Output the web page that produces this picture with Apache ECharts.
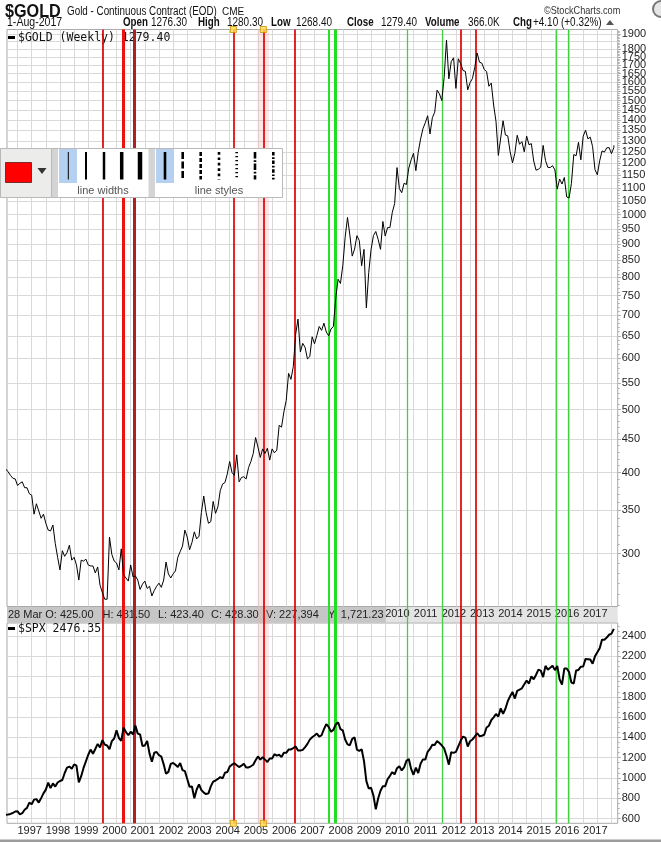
<!DOCTYPE html>
<html><head><meta charset="utf-8">
<script src="https://cdn.jsdelivr.net/npm/echarts@6/dist/echarts.min.js"></script>
<style>html,body{margin:0;padding:0;background:#fff}#c{width:661px;height:842px}</style>
</head><body><div id="c"></div>
<script>
// ---- Gold month-end values (Jan..Dec) ----
const g1996 = [405, 401, 396, 392, 391, 382, 385, 387, 379, 379, 371, 369];
const g1997 = [345, 358, 349, 340, 345, 334, 326, 325, 332, 311, 296, 283];
const g1998 = [303, 297, 301, 309, 293, 296, 288, 273, 293, 292, 294, 288];
const g1999 = [287, 287, 280, 286, 268, 261, 255, 255, 318, 299, 292, 290];
const g2000 = [283, 305, 278, 275, 272, 288, 276, 277, 273, 264, 269, 272];
const g2001 = [265, 267, 258, 263, 267, 270, 266, 273, 291, 279, 275, 279];
const g2002 = [282, 296, 302, 308, 326, 318, 304, 312, 324, 316, 319, 347];
const g2003 = [368, 347, 334, 336, 361, 346, 354, 375, 384, 386, 398, 416];
const g2004 = [400, 396, 426, 387, 393, 394, 391, 407, 416, 428, 453, 438];
const g2005 = [422, 435, 428, 436, 418, 435, 429, 433, 473, 470, 496, 517];
const g2006 = [569, 557, 583, 654, 690, 614, 633, 624, 599, 604, 648, 632];
const g2007 = [651, 672, 663, 680, 659, 650, 666, 672, 743, 795, 783, 834];
const g2008 = [923, 990, 930, 863, 885, 928, 912, 834, 884, 718, 814, 884];
const g2009 = [928, 942, 916, 884, 976, 927, 955, 955, 1008, 1040, 1182, 1097];
const g2010 = [1081, 1118, 1113, 1180, 1215, 1244, 1169, 1248, 1308, 1357, 1386, 1421];
const g2011 = [1332, 1411, 1439, 1556, 1536, 1500, 1628, 1860, 1620, 1722, 1746, 1566];
const g2012 = [1740, 1711, 1669, 1664, 1558, 1598, 1622, 1687, 1776, 1719, 1713, 1675];
const g2013 = [1663, 1578, 1596, 1476, 1393, 1234, 1313, 1396, 1327, 1323, 1250, 1202];
const g2014 = [1244, 1326, 1284, 1296, 1250, 1322, 1282, 1287, 1210, 1171, 1175, 1184];
const g2015 = [1279, 1212, 1183, 1182, 1190, 1172, 1095, 1135, 1115, 1141, 1065, 1061];
const g2016 = [1117, 1238, 1233, 1293, 1215, 1321, 1350, 1309, 1317, 1273, 1174, 1152];
const g2017 = [1211, 1254, 1249, 1268, 1269, 1242, 1269];
const goldLast = 1279.40;

// ---- S&P 500 month-end values (Jan..Dec) ----
const s1996 = [636, 640, 645, 654, 669, 671, 640, 652, 687, 705, 757, 741];
const s1997 = [786, 791, 757, 801, 848, 885, 954, 899, 947, 915, 955, 970];
const s1998 = [980, 1049, 1102, 1112, 1091, 1134, 1121, 957, 1017, 1099, 1164, 1229];
const s1999 = [1280, 1238, 1286, 1335, 1302, 1373, 1329, 1320, 1283, 1363, 1389, 1469];
const s2000 = [1394, 1366, 1499, 1452, 1421, 1455, 1431, 1518, 1437, 1429, 1315, 1320];
const s2001 = [1366, 1240, 1160, 1249, 1256, 1224, 1211, 1134, 1041, 1060, 1139, 1148];
const s2002 = [1130, 1107, 1147, 1077, 1067, 990, 912, 916, 800, 886, 936, 880];
const s2003 = [856, 841, 848, 917, 964, 975, 990, 1008, 996, 1051, 1058, 1112];
const s2004 = [1131, 1145, 1126, 1107, 1121, 1141, 1102, 1104, 1115, 1130, 1174, 1212];
const s2005 = [1181, 1204, 1181, 1157, 1192, 1191, 1234, 1220, 1229, 1207, 1249, 1248];
const s2006 = [1280, 1281, 1295, 1311, 1270, 1270, 1277, 1304, 1336, 1378, 1401, 1418];
const s2007 = [1438, 1407, 1421, 1482, 1531, 1503, 1455, 1474, 1527, 1549, 1481, 1468];
const s2008 = [1379, 1331, 1323, 1386, 1400, 1280, 1267, 1283, 1166, 969, 896, 903];
const s2009 = [826, 690, 798, 873, 919, 919, 987, 1021, 1057, 1036, 1096, 1115];
const s2010 = [1074, 1104, 1169, 1187, 1089, 1031, 1102, 1049, 1141, 1183, 1181, 1258];
const s2011 = [1286, 1327, 1326, 1364, 1345, 1321, 1292, 1219, 1131, 1253, 1247, 1258];
const s2012 = [1312, 1366, 1408, 1398, 1310, 1362, 1379, 1407, 1441, 1412, 1416, 1426];
const s2013 = [1498, 1515, 1569, 1598, 1631, 1606, 1686, 1633, 1682, 1757, 1806, 1848];
const s2014 = [1783, 1859, 1872, 1884, 1924, 1960, 1931, 2003, 1972, 2018, 2068, 2059];
const s2015 = [1995, 2105, 2068, 2086, 2107, 2063, 2104, 1972, 1920, 2079, 2080, 2044];
const s2016 = [1940, 1932, 2060, 2065, 2097, 2099, 2174, 2171, 2168, 2126, 2199, 2239];
const s2017 = [2279, 2364, 2363, 2384, 2412, 2423, 2470];
const spxLast = 2476.35;
const lastDate = 2017.585; // 1-Aug-2017

// ---- axis ticks ----
const yearLabels = [1997,1998,1999,2000,2001,2002,2003,2004,2005,2006,2007,2008,2009,2010,2011,2012,2013,2014,2015,2016,2017];
const goldLabels = [300,350,400,450,500,550,600,650,700,750,800,850,900,950,1000,1050,1100,1150,1200,1250,1300,1350,1400,1450,1500,1550,1600,1650,1700,1750,1800,1850,1900];
const spxLabels = [600,800,1000,1200,1400,1600,1800,2000,2200,2400];

// ---- annotation lines (decimal years) ----
const thinRedLines = [1999.532, 2004.129, 2005.190, 2006.311, 2012.180, 2012.700];
const thickRedLines = [2000.228];
const darkRedLines = [2000.617];
const thinGreenLines = [2010.281, 2011.498, 2015.564, 2015.980];
const midGreenLines = [2007.488];
const thickGreenLines = [2007.725];
const handleLines = [2004.129, 2005.190];
const pinkBand = [2004.99, 2005.39];

const goldYears = [g1996,g1997,g1998,g1999,g2000,g2001,g2002,g2003,g2004,g2005,g2006,g2007,g2008,g2009,g2010,g2011,g2012,g2013,g2014,g2015,g2016,g2017];
const spxYears = [s1996,s1997,s1998,s1999,s2000,s2001,s2002,s2003,s2004,s2005,s2006,s2007,s2008,s2009,s2010,s2011,s2012,s2013,s2014,s2015,s2016,s2017];

function toSeries(years, last) {
  const out = [];
  years.forEach((arr, yi) => arr.forEach((v, m) => out.push([1996 + yi + (m + 1) / 12, v])));
  out.push([lastDate, last]);
  return out;
}
const goldData = toSeries(goldYears, goldLast);
const spxData = toSeries(spxYears, spxLast);

const X_MIN = 1996.127, X_MAX = 2017.72;
const halfYears = []; for (let y = 1996.5; y <= 2017.5; y += 0.5) halfYears.push(y);
const goldMinor = []; for (let v = 250; v <= 1920; v += 10) goldMinor.push(v);
const spxMinor = []; for (let v = 600; v <= 2500; v += 50) spxMinor.push(v);

const FONT = '"Liberation Sans", Arial, sans-serif';
const GRID_L = 7, GRID_R = 43.3;

function xAxisFor(gi) {
  return {
    gridIndex: gi, type: 'value', min: X_MIN, max: X_MAX,
    axisLine: { show: false },
    axisTick: { show: false, customValues: halfYears },
    splitLine: { show: true, lineStyle: { color: '#d9d9d9', width: 1 } },
    axisLabel: { customValues: yearLabels, formatter: v => String(Math.round(v)), margin: 2,
      fontSize: 11, color: '#222', fontFamily: FONT, padding: [0, 4, 0, 0], hideOverlap: false }
  };
}

function lineSeries(name, xs, color, width, z) {
  return { name: name, type: 'line', xAxisIndex: 2, yAxisIndex: 2, data: [[X_MIN, 0.5]], symbol: 'none',
    lineStyle: { width: 0, opacity: 0 }, z: z, silent: true,
    markLine: { z: z, silent: true, symbol: ['none', 'none'], label: { show: false }, animation: false,
      lineStyle: { color: color, width: width, type: 'solid', opacity: 1 },
      emphasis: { disabled: true },
      data: xs.map(x => ({ xAxis: x })) } };
}

const handles = [];
handleLines.forEach(x => { handles.push([x, 1]); handles.push([x, 0]); });

function txt(text, x, y, font, opts) {
  opts = opts || {};
  return { type: 'text', x: x, y: y, scaleX: opts.sx || 1, z: opts.z || 50, silent: true,
    style: { text: text, font: font, fill: opts.fill || '#111', textAlign: opts.align || 'left', align: opts.align || 'left',
      textVerticalAlign: 'middle', verticalAlign: 'middle' } };
}
function rect(x, y, w, h, fill, stroke, z) {
  return { type: 'rect', z: z, silent: true, shape: { x: x, y: y, width: w, height: h },
    style: { fill: fill, stroke: stroke || null, lineWidth: stroke ? 1 : 0 } };
}
function vl(x, y1, y2, w, dash, z) {
  return { type: 'line', z: z, silent: true, shape: { x1: x, y1: y1, x2: x, y2: y2 },
    style: { stroke: '#000', lineWidth: w, lineDash: dash || null } };
}

const graphics = [];
// header
graphics.push(txt('$GOLD', 5, 12, 'bold 18px ' + FONT, { sx: 0.9 }));
graphics.push(txt('Gold - Continuous Contract (EOD)', 67, 12, '12px ' + FONT, { sx: 0.82 }));
graphics.push(txt('CME', 222, 12.5, '10px ' + FONT));
graphics.push(txt('\u00A9StockCharts.com', 544, 11, '11px ' + FONT, { sx: 0.83, fill: '#333' }));
graphics.push(txt('1-Aug-2017', 7, 23, '12px ' + FONT, { sx: 0.88 }));
const hdrBold = [['Open', 123], ['High', 198], ['Low', 271], ['Close', 347], ['Volume', 425], ['Chg', 513]];
const hdrVals = [['1276.30', 151], ['1280.30', 227], ['1268.40', 296], ['1279.40', 381], ['366.0K', 468], ['+4.10 (+0.32%)', 533]];
hdrBold.forEach(p => graphics.push(txt(p[0], p[1], 23, 'bold 12.5px ' + FONT, { sx: 0.78 })));
hdrVals.forEach(p => graphics.push(txt(p[0], p[1], 23, '12px ' + FONT, { sx: 0.83 })));
graphics.push({ type: 'polygon', z: 50, silent: true, shape: { points: [[606, 25], [614, 25], [610, 20]] }, style: { fill: '#555' } });
graphics.push({ type: 'circle', z: 50, silent: true, shape: { cx: 661, cy: 9, r: 8 }, style: { fill: '#e6e6e6', stroke: '#777', lineWidth: 2 } });
// legends inside panels
graphics.push(rect(8, 36, 7, 3, '#000', null, 50));
graphics.push(txt('$GOLD (Weekly) 1279.40', 18, 38, '11.5px "DejaVu Sans Mono", monospace'));
graphics.push(rect(8, 627, 7, 3, '#000', null, 50));
graphics.push(txt('$SPX 2476.35', 18, 629, '11.5px "DejaVu Sans Mono", monospace'));
// band between panels
graphics.push(rect(7, 607, 610.7, 15.5, '#e4e4e4', null, -1));
graphics.push(rect(7, 607, 379, 15.5, '#c6c6c6', null, 100));
const info = [['28 Mar O: 425.00', 8], ['H: 481.50', 102.5], ['L: 423.40', 158], ['C: 428.30', 211], ['V: 227,394', 266], ['Y: 1,721.23', 328]];
info.forEach(p => graphics.push(txt(p[0], p[1], 615, '11px ' + FONT, { z: 101, fill: '#222' })));
// bottom frame line
graphics.push(rect(0, 839.5, 661, 2.5, '#9c9c9c', null, 50));
// toolbar overlay
const TZ = 300;
graphics.push(rect(0.5, 148.5, 282, 49, '#ffffff', '#b9b9b9', TZ));
graphics.push(rect(0.5, 148.5, 51, 49, '#ececea', '#b9b9b9', TZ));
graphics.push(rect(5.5, 162.5, 26, 20, '#ff0000', '#7a2a2a', TZ + 1));
graphics.push({ type: 'polygon', z: TZ + 1, silent: true, shape: { points: [[37.5, 168], [46.5, 168], [42, 174]] }, style: { fill: '#333' } });
graphics.push(rect(52, 149, 6, 48, '#d4d4d4', null, TZ + 1));
graphics.push(rect(148.5, 149, 6.5, 48, '#d4d4d4', null, TZ + 1));
graphics.push(rect(59, 149, 18, 34, '#b5d1f1', null, TZ + 1));
graphics.push(rect(156, 149, 18, 34, '#b5d1f1', null, TZ + 1));
const widthsX = [68.3, 86, 104, 121.7, 140], widthsW = [1, 2, 2.5, 3.5, 4.5];
widthsX.forEach((x, i) => graphics.push(vl(x, 152, 179.5, widthsW[i], null, TZ + 2)));
const stylesX = [165, 182.7, 200.7, 219, 236.7, 255, 273.3];
const stylesDash = [null, [7, 2.5], [4, 2], [2.7, 2.7], [1.3, 2.7], [6.5, 1.7, 1.7, 1.7], [3.5, 1.7, 1.7, 1.7]];
stylesX.forEach((x, i) => graphics.push(vl(x, 152, 179.5, 2.6, stylesDash[i], TZ + 2)));
graphics.push(txt('line widths', 103, 190.5, '11px ' + FONT, { align: 'center', fill: '#555', z: TZ + 2 }));
graphics.push(txt('line styles', 219, 190.5, '11px ' + FONT, { align: 'center', fill: '#555', z: TZ + 2 }));

const option = {
  animation: false,
  backgroundColor: '#ffffff',
  textStyle: { fontFamily: FONT },
  grid: [
    { left: GRID_L, right: GRID_R, top: 29.5, height: 577, show: true, borderColor: '#a9a9a9', borderWidth: 1, backgroundColor: 'transparent' },
    { left: GRID_L, right: GRID_R, top: 623, height: 200.3, show: true, borderColor: '#a9a9a9', borderWidth: 1, backgroundColor: 'transparent' },
    { left: GRID_L, right: GRID_R, top: 29.5, height: 793.8 }
  ],
  xAxis: [
    xAxisFor(0),
    xAxisFor(1),
    { gridIndex: 2, type: 'value', min: X_MIN, max: X_MAX, show: false, splitLine: { show: false } }
  ],
  yAxis: [
    { gridIndex: 0, type: 'log', logBase: 10, min: 248.5, max: 1930.6, position: 'right',
      axisLine: { show: false },
      axisTick: { show: true, length: 3, customValues: goldLabels, lineStyle: { color: '#9a9a9a' } },
      axisLabel: { customValues: goldLabels, formatter: v => String(Math.round(v)), margin: 4, fontSize: 11, color: '#222',
        fontFamily: FONT, showMaxLabel: true, showMinLabel: true, hideOverlap: false },
      splitLine: { show: true, lineStyle: { color: '#d9d9d9', width: 1 } } },
    { gridIndex: 1, type: 'value', min: 552.7, max: 2528, position: 'right',
      axisLine: { show: false },
      axisTick: { show: true, length: 3, customValues: spxLabels, lineStyle: { color: '#9a9a9a' } },
      axisLabel: { customValues: spxLabels, formatter: v => String(Math.round(v)), margin: 4, fontSize: 11, color: '#222',
        fontFamily: FONT, showMaxLabel: true, showMinLabel: true },
      splitLine: { show: true, lineStyle: { color: '#d9d9d9', width: 1 } } },
    { gridIndex: 2, type: 'value', min: 0, max: 1, show: false, splitLine: { show: false } },
    { gridIndex: 0, type: 'log', logBase: 10, min: 248.5, max: 1930.6, position: 'right',
      axisLine: { show: false }, axisLabel: { show: false }, splitLine: { show: false },
      axisTick: { show: true, length: 2, customValues: goldMinor, lineStyle: { color: '#b0b0b0' } } },
    { gridIndex: 1, type: 'value', min: 552.7, max: 2528, position: 'right',
      axisLine: { show: false }, axisLabel: { show: false }, splitLine: { show: false },
      axisTick: { show: true, length: 2, customValues: spxMinor, lineStyle: { color: '#b0b0b0' } } }
  ],
  series: [
    { name: 'GOLD', type: 'line', xAxisIndex: 0, yAxisIndex: 0, data: goldData, showSymbol: false, symbol: 'none',
      lineStyle: { color: '#000', width: 1 }, z: 250, clip: true, silent: true },
    { name: 'SPX', type: 'line', xAxisIndex: 1, yAxisIndex: 1, data: spxData, showSymbol: false, symbol: 'none',
      lineStyle: { color: '#000', width: 2 }, z: 250, clip: true, silent: true },
    { name: 'band', type: 'line', xAxisIndex: 2, yAxisIndex: 2, data: [[X_MIN, 0.5]], symbol: 'none',
      lineStyle: { width: 0, opacity: 0 }, z: 150, silent: true,
      markArea: { z: 150, silent: true, itemStyle: { color: 'rgba(250,170,170,0.28)' }, label: { show: false },
        data: [[{ xAxis: pinkBand[0] }, { xAxis: pinkBand[1] }]] } },
    lineSeries('thinRed', thinRedLines, '#e00000', 1.7, 200),
    lineSeries('thickRed', thickRedLines, '#ee1111', 3, 201),
    lineSeries('darkRed', darkRedLines, '#b02020', 3, 201),
    lineSeries('thinGreen', thinGreenLines, '#3ed23e', 1.3, 200),
    lineSeries('midGreen', midGreenLines, '#2edc2e', 2, 200),
    lineSeries('thickGreen', thickGreenLines, '#22dd22', 3, 200),
    { name: 'handles', type: 'scatter', xAxisIndex: 2, yAxisIndex: 2, data: handles, symbol: 'rect', symbolSize: 6,
      itemStyle: { color: '#ffe14a', borderColor: '#d08a00', borderWidth: 1 }, z: 210, silent: true, clip: false }
  ],
  graphic: { elements: graphics }
};

const chart = echarts.init(document.getElementById('c'), null, { renderer: 'canvas' });
chart.setOption(option);
</script>
</body></html>
